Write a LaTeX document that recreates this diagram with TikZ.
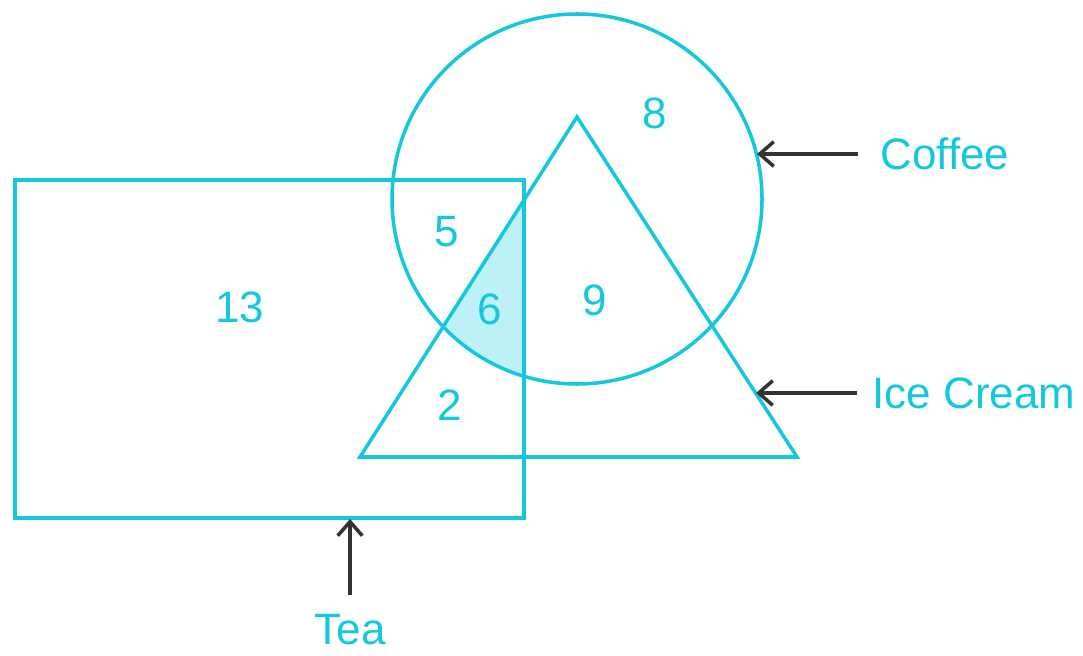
\documentclass[tikz,border=0pt]{standalone}
\usepackage{fontspec}
\setmainfont{Liberation Sans}
\usetikzlibrary{arrows.meta}
\definecolor{venn}{HTML}{14C8DC}
\definecolor{vennfill}{HTML}{BDF0F7}
\definecolor{pointer}{HTML}{333333}

\begin{document}
\begin{tikzpicture}[
  x=0.01cm, y=-0.01cm,
  set/.style={draw=venn, line width=1pt},
  num/.style={text=venn, font=\fontsize{12.5}{15}\selectfont},
  setname/.style={text=venn, font=\fontsize{12.5}{15}\selectfont, inner ysep=0pt},
  arr/.style={-{Straight Barb[length=4pt,width=7pt]}, draw=pointer, line width=1pt}
]
\useasboundingbox (0,0) rectangle (1083,655);

% shaded part: tea, coffee and ice cream
\begin{scope}
  \clip (577,199) circle[radius=185];
  \clip (577,117) -- (797,457) -- (360,457) -- cycle;
  \fill[vennfill] (15,180) rectangle (524,518);
\end{scope}

\draw[set] (15,180) rectangle (524,518);
\draw[set] (577,199) circle[radius=185];
\draw[set] (577,117) -- (797,457) -- (360,457) -- cycle;

\node[num] (n8) at (655,113) {8};
\node[num] (n5) at (447,232) {5};
\node[num] (n13) at (240,307) {13};
\node[num] (n6) at (490,309) {6};
\node[num] (n9) at (595,300) {9};
\node[num] (n2) at (450,405) {2};

\node[setname, inner xsep=0.22cm] (coffee) at (945,154) {Coffee};
\node[setname, inner xsep=0.15cm] (icecream) at (974,393) {Ice Cream};
\node[setname, inner xsep=0pt, inner ysep=0.19cm] (tea) at (350,630) {Tea};

\coordinate (coffeetip) at (757,155);
\coordinate (icetip) at (756,393);
\coordinate (teatip) at (350,519);

\draw[arr] (coffee.west) -- (coffee.west -| coffeetip);
\draw[arr] (icecream.west) -- (icecream.west -| icetip);
\draw[arr] (tea.north) -- (teatip);
\end{tikzpicture}
\end{document}
